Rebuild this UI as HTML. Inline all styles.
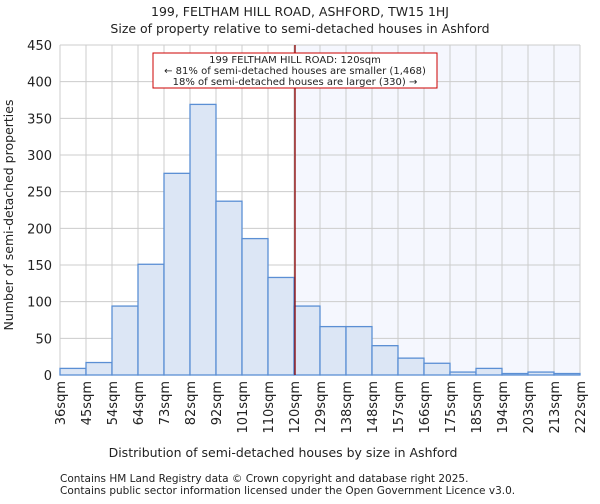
<!DOCTYPE html>
<html><head><meta charset="utf-8"><style>
body{margin:0;background:#fff;font-family:"DejaVu Sans","Liberation Sans",sans-serif;}
svg text{font-family:"DejaVu Sans","Liberation Sans",sans-serif;fill:#222;}
</style></head><body>
<svg id="chart" width="600" height="500">
<text x="300" y="16" text-anchor="middle" font-size="12.5">199, FELTHAM HILL ROAD, ASHFORD, TW15 1HJ</text>
<text x="300" y="33" text-anchor="middle" font-size="12.5">Size of property relative to semi-detached houses in Ashford</text>
<g id="plot"></g>
<text x="283" y="457" text-anchor="middle" font-size="12.5">Distribution of semi-detached houses by size in Ashford</text>
<text transform="translate(13,215) rotate(-90)" text-anchor="middle" font-size="12.5">Number of semi-detached properties</text>
<text x="60" y="482" font-size="10.5">Contains HM Land Registry data © Crown copyright and database right 2025.</text>
<text x="60" y="494" font-size="10.5">Contains public sector information licensed under the Open Government Licence v3.0.</text>
</svg>
<script>
const categories=["36sqm","45sqm","54sqm","64sqm","73sqm","82sqm","92sqm","101sqm","110sqm","120sqm","129sqm","138sqm","148sqm","157sqm","166sqm","175sqm","185sqm","194sqm","203sqm","213sqm","222sqm"];
const counts=[9,17,94,151,275,369,237,186,133,94,66,66,40,23,16,4,9,2,4,2];
const yTicks=[0,50,100,150,200,250,300,350,400,450];
const markerIndex=9;
const L=60,R=580,T=45,B=375,yMax=450;
const nb=counts.length;
const x=i=>L+(R-L)*i/nb;
const y=v=>B-(B-T)*v/yMax;
const NS="http://www.w3.org/2000/svg";
const g=document.getElementById('plot');
function mk(t,a){const e=document.createElementNS(NS,t);for(const k in a)e.setAttribute(k,a[k]);g.appendChild(e);return e;}
let e;
e=mk('rect',{x:x(markerIndex),y:T,width:R-x(markerIndex),height:B-T,fill:'#f5f7fe'});


yTicks.forEach(v=>{
 e=mk('line',{x1:L,x2:R,y1:y(v),y2:y(v),stroke:'#cccccc','stroke-width':1});
 
 
 e=mk('text',{x:L-8,y:y(v)+5,'text-anchor':'end','font-size':13});e.textContent=v;
 
 
});
categories.forEach((c,i)=>{
 e=mk('line',{x1:x(i),x2:x(i),y1:T,y2:B,stroke:'#cccccc','stroke-width':1});
 
 
 e=mk('text',{transform:`translate(${x(i)+5},${B+6}) rotate(-90)`,'text-anchor':'end','font-size':13});e.textContent=c;
 
 
});
counts.forEach((v,i)=>{
 e=mk('rect',{x:x(i),y:y(v),width:x(i+1)-x(i),height:B-y(v),fill:'#dce6f5',stroke:'#5b8fd4','stroke-width':1.3});
 
 
});
e=mk('line',{x1:x(markerIndex)+1,x2:x(markerIndex)+1,y1:T,y2:B,stroke:'#8b0000','stroke-width':1.3});


e=mk('rect',{x:153,y:53,width:284,height:35,fill:'#fff',stroke:'#cc0000','stroke-width':1});


[["199 FELTHAM HILL ROAD: 120sqm",63],["← 81% of semi-detached houses are smaller (1,468)",74],["18% of semi-detached houses are larger (330) →",85]].forEach(([t,yy])=>{
 e=mk('text',{x:295,y:yy,'text-anchor':'middle','font-size':10});e.textContent=t;
 
 
});
</script>
</body></html>
